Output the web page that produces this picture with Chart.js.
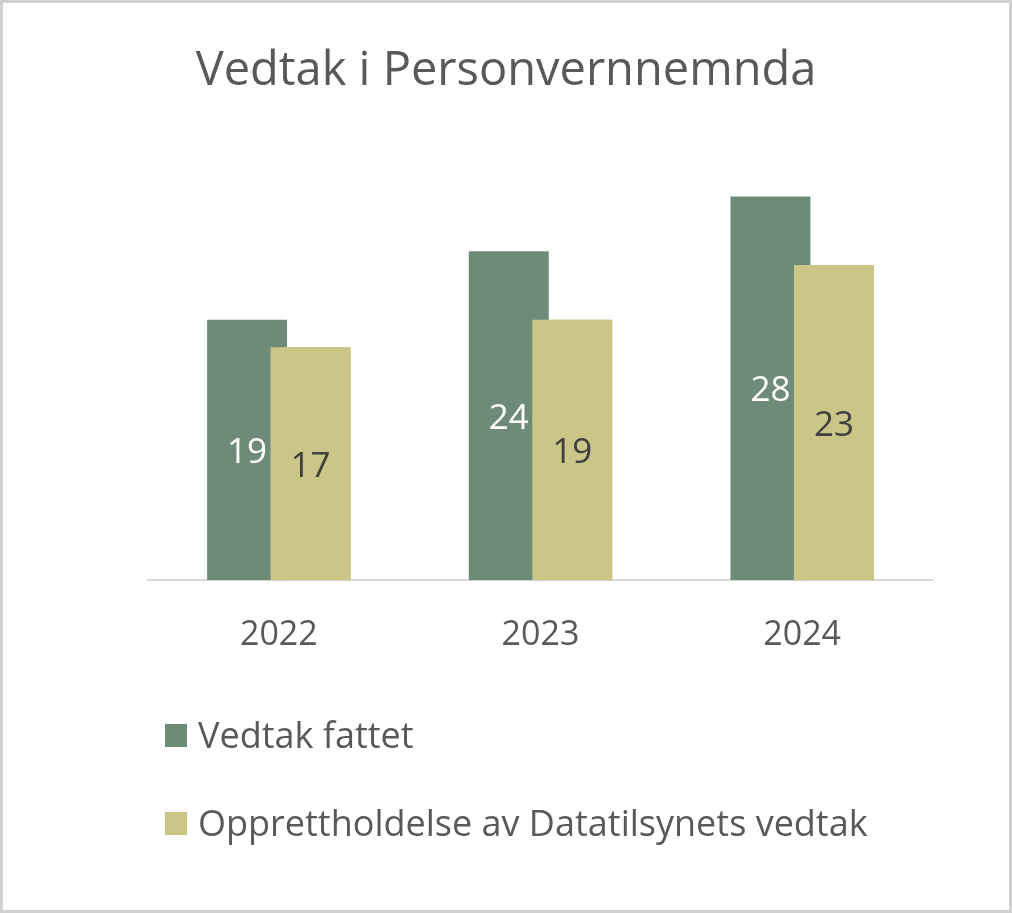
<!DOCTYPE html>
<html>
<head>
<meta charset="utf-8">
<script src="https://cdn.jsdelivr.net/npm/chart.js@4"></script>
<style>
  html, body { margin: 0; padding: 0; background: #ffffff; }
  #wrap { width: 1012px; height: 913px; position: relative; }
</style>
</head>
<body>
<div id="wrap"><canvas id="c" width="1012" height="913"></canvas></div>
<script>
// ---- data ----
const chartTitle = 'Vedtak i Personvernnemnda';
const categories = ['2022', '2023', '2024'];
const seriesNames = ['Vedtak fattet', 'Opprettholdelse av Datatilsynets vedtak'];
const vedtakFattet = [19, 24, 28];
const opprettholdelse = [17, 19, 23];

// ---- styles ----
const FONT = '"Open Sans", Lato, sans-serif';
const GREEN = '#6E8B7A';
const SAND = '#CBC687';
const TEXT = '#595959';
const labelColors = ['#FFFFFF', '#404040'];

const framePlugin = {
  id: 'frame',
  beforeDraw(chart) {
    const ctx = chart.ctx;
    ctx.save();
    ctx.fillStyle = '#ffffff';
    ctx.fillRect(0, 0, chart.width, chart.height);
    ctx.strokeStyle = '#D0D0D0';
    ctx.lineWidth = 3;
    ctx.strokeRect(1.5, 1.5, chart.width - 3, chart.height - 3);
    // title, centred on the whole canvas
    ctx.fillStyle = TEXT;
    ctx.font = '47px ' + FONT;
    ctx.textAlign = 'center';
    ctx.textBaseline = 'middle';
    ctx.fillText(chartTitle, chart.width / 2, 72);
    ctx.restore();
  }
};

const valueLabels = {
  id: 'valueLabels',
  afterDatasetsDraw(chart) {
    // second series overlaps the first: draw it again so it sits on top
    chart.getDatasetMeta(1).controller.draw();
    const ctx = chart.ctx;
    ctx.save();
    ctx.font = '35px ' + FONT;
    ctx.textAlign = 'center';
    ctx.textBaseline = 'middle';
    chart.data.datasets.forEach((ds, di) => {
      const meta = chart.getDatasetMeta(di);
      meta.data.forEach((bar, i) => {
        const p = bar.getProps(['x', 'y', 'base'], true);
        ctx.fillStyle = labelColors[di];
        ctx.fillText(String(ds.data[i]), p.x, (p.y + p.base) / 2 + 3);
      });
    });
    ctx.restore();
  }
};

const customLegend = {
  id: 'customLegend',
  afterDraw(chart) {
    const ctx = chart.ctx;
    ctx.save();
    ctx.font = '36px ' + FONT;
    ctx.textAlign = 'left';
    ctx.textBaseline = 'middle';
    const rows = [735.5, 823.5];
    chart.data.datasets.forEach((ds, di) => {
      const cy = rows[di];
      ctx.fillStyle = ds.backgroundColor;
      ctx.fillRect(165, cy - 11.5, 22, 23);
      ctx.fillStyle = TEXT;
      ctx.fillText(ds.label, 198, cy + 2);
    });
    ctx.restore();
  }
};

new Chart(document.getElementById('c'), {
  type: 'bar',
  data: {
    labels: categories,
    datasets: [
      { label: seriesNames[0], data: vedtakFattet, backgroundColor: GREEN,
        categoryPercentage: 0.485, barPercentage: 1.26 },
      { label: seriesNames[1], data: opprettholdelse, backgroundColor: SAND,
        categoryPercentage: 0.485, barPercentage: 1.26 }
    ]
  },
  options: {
    responsive: false,
    animation: false,
    devicePixelRatio: 1,
    layout: { padding: { left: 148, right: 79, top: 169, bottom: 222 } },
    plugins: {
      legend: { display: false },
      tooltip: { enabled: false },
      title: { display: false }
    },
    scales: {
      x: {
        grid: { display: false, drawTicks: false },
        border: { display: true, color: '#D9D9D9', width: 2 },
        ticks: { color: TEXT, font: { family: FONT, size: 34, lineHeight: 1.2 }, padding: 35 }
      },
      y: {
        display: false,
        min: 0,
        max: 30,
        grid: { display: false }
      }
    }
  },
  plugins: [framePlugin, valueLabels, customLegend]
});
</script>
</body>
</html>
